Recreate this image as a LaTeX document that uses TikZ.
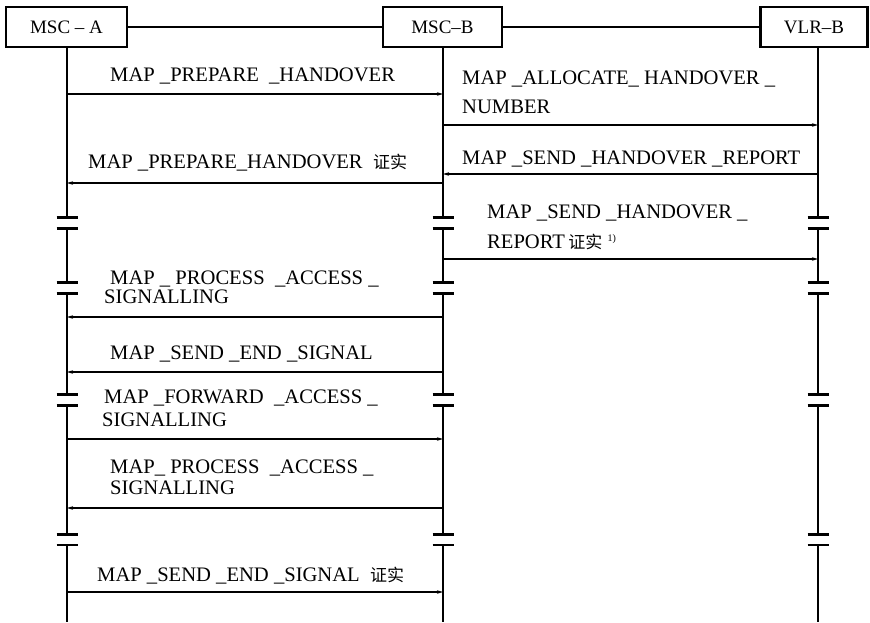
\documentclass[tikz,border=0pt]{standalone}
\usepackage{fontspec}
\setmainfont{Liberation Serif}
\newfontfamily\cjk{Noto Sans CJK SC}
\usetikzlibrary{arrows.meta}
\newcommand\zs[1]{{\cjk\fontsize{17}{19}\selectfont #1}}
\begin{document}
\begin{tikzpicture}[x=1pt,y=-1pt,
  entity/.style={draw, line width=2.6pt, minimum height=40pt, inner sep=0pt,
    font=\fontsize{19}{21}\selectfont},
  life/.style={line width=1.4pt},
  brk/.style={line width=2.2pt},
  msg/.style={line width=1.2pt, -{Stealth[length=6pt,width=3.5pt]}},
  lbl/.style={anchor=base west, inner sep=0pt, font=\fontsize{20.6}{23}\selectfont}]
\useasboundingbox (0,0) rectangle (870,622);
% entities
\node[entity, minimum width=121pt] (A) at (66.5,27) {MSC -- A};
\node[entity, minimum width=119pt] (B) at (442.5,27) {MSC--B};
\node[entity, minimum width=107pt] (V) at (814,27) {VLR--B};
\draw[line width=1.2pt] (A.east) -- (B.west);
\draw[line width=1.2pt] (B.east) -- (V.west);
% lifelines with breaks
\foreach \n/\x in {A/67,B/443,V/818}{
  \coordinate (\n0) at (\x,47);
  \coordinate (\n1) at (\x,217.5);
  \coordinate (\n2) at (\x,228.5);
  \coordinate (\n3) at (\x,282.5);
  \coordinate (\n4) at (\x,293.5);
  \coordinate (\n5) at (\x,394.5);
  \coordinate (\n6) at (\x,405.5);
  \coordinate (\n7) at (\x,534.5);
  \coordinate (\n8) at (\x,545);
  \coordinate (\n9) at (\x,622);
  \draw[life] (\n0) -- (\n1) (\n2) -- (\n3) (\n4) -- (\n5) (\n6) -- (\n7) (\n8) -- (\n9);
  \foreach \k in {1,...,8}{
    \draw[brk] ([xshift=-10.5pt]\n\k) -- ([xshift=10.5pt]\n\k);
  }
}
% message end points
\foreach \i/\y in {1/94,2/125,3/174,4/183,5/259,6/317,7/372,8/439,9/508,10/592}{
  \coordinate (a\i) at (67,\y);
  \coordinate (b\i) at (443,\y);
  \coordinate (v\i) at (818,\y);
}
\draw[msg] (a1) -- (b1);
\draw[msg] (b2) -- (v2);
\draw[msg] (v3) -- (b3);
\draw[msg] (b4) -- (a4);
\draw[msg] (b5) -- (v5);
\draw[msg] (b6) -- (a6);
\draw[msg] (b7) -- (a7);
\draw[msg] (a8) -- (b8);
\draw[msg] (b9) -- (a9);
\draw[msg] (a10) -- (b10);
% labels
\node[lbl] (t1) at (110,81) {MAP \_PREPARE \ \_HANDOVER};
\node[lbl] (t2a) at (462,84.5) {MAP \_ALLOCATE\_ HANDOVER \_};
\node[lbl] (t2b) at (462,113.5) {NUMBER};
\node[lbl] (t3) at (462,164.5) {MAP \_SEND \_HANDOVER \_REPORT};
\node[lbl] (t4) at (88,168.5) {MAP \_PREPARE\_HANDOVER \ \zs{证实}};
\node[lbl] (t5a) at (487,218.5) {MAP \_SEND \_HANDOVER \_};
\node[lbl] (t5b) at (487,248.5) {REPORT\,\zs{证实} \raisebox{7pt}{\fontsize{10}{12}\selectfont 1)}};
\node[lbl] (t6a) at (110,284.5) {MAP \_ PROCESS \ \_ACCESS \_};
\node[lbl] (t6b) at (104,303.5) {SIGNALLING};
\node[lbl] (t7) at (110,359.5) {MAP \_SEND \_END \_SIGNAL};
\node[lbl] (t8a) at (104,403.5) {MAP \_FORWARD \ \_ACCESS \_};
\node[lbl] (t8b) at (102,426.5) {SIGNALLING};
\node[lbl] (t9a) at (110,473.5) {MAP\_ PROCESS \ \_ACCESS \_};
\node[lbl] (t9b) at (110,494.5) {SIGNALLING};
\node[lbl] (t10) at (97,581.5) {MAP \_SEND \_END \_SIGNAL \ \zs{证实}};
\end{tikzpicture}
\end{document}
